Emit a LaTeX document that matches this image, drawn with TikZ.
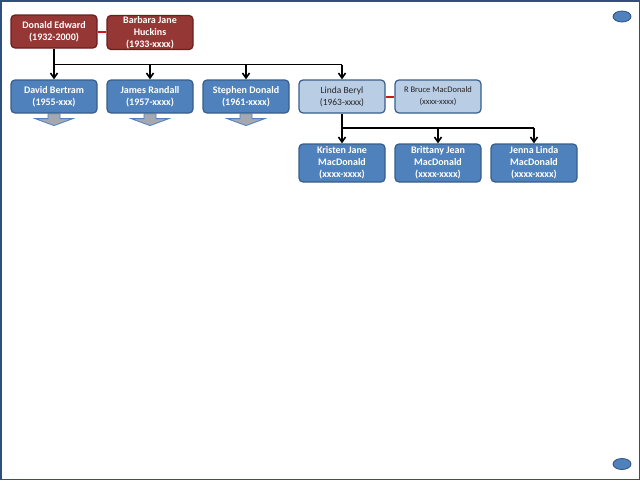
\documentclass[tikz,border=0pt]{standalone}
\usepackage{fontspec}
\setmainfont{Carlito}
\usetikzlibrary{arrows.meta,shapes.geometric}
\definecolor{redfill}{HTML}{953735}
\definecolor{redline}{HTML}{6B1E1E}
\definecolor{bluefill}{HTML}{4F81BD}
\definecolor{blueline}{HTML}{385D8A}
\definecolor{lightfill}{HTML}{B9CDE5}
\definecolor{spouse}{HTML}{D01818}
\definecolor{frame}{HTML}{2F4F7F}
\definecolor{grayarrow}{HTML}{A5A8AE}
\tikzset{
  person/.style={draw=#1, line width=1.2pt, rounded corners=4pt, minimum width=86pt, minimum height=33pt, inner sep=1pt, align=center, font=\fontsize{10}{11.8}\selectfont\bfseries, text=white},
  redbox/.style={person=redline, fill=redfill},
  bluebox/.style={person=blueline, fill=bluefill},
  lightbox/.style={person=blueline, fill=lightfill, text=black!85, font=\fontsize{9.5}{12}\selectfont},
  tallbox/.style={minimum height=38pt},
  marriage/.style={draw=spouse, line width=2pt},
  descent/.style={draw=black, line width=1.8pt, -{Straight Barb[length=5pt,width=7pt,line width=1.6pt]}},
  trunk/.style={draw=black, line width=1.8pt},
  dot/.style={ellipse, draw=frame, fill=bluefill, line width=0.8pt, minimum width=18pt, minimum height=11pt, inner sep=0pt},
  more/.style={fill=grayarrow, draw=bluefill, line width=0.8pt}
}
\begin{document}
\begin{tikzpicture}[x=1pt,y=-1pt]
\useasboundingbox (0,0) rectangle (640,480);
\draw[frame, line width=1.5pt] (0.75,0.75) rectangle (639.25,479.25);

\node[redbox] (don) at (54,31.5) {Donald Edward\\(1932-2000)};
\node[redbox] (bar) at (150,32.5) {Barbara Jane\\Huckins\\(1933-xxxx)};
\draw[marriage] (don.east) -- (don.east -| bar.west);

\node[bluebox] (dav) at (54,96.5) {David Bertram\\(1955-xxx)};
\node[bluebox] (jam) at (150,96.5) {James Randall\\(1957-xxxx)};
\node[bluebox] (ste) at (246,96.5) {Stephen Donald\\(1961-xxxx)};
\node[lightbox] (lin) at (342,96.5) {Linda Beryl\\(1963-xxxx)};
\node[lightbox, font=\fontsize{8.5}{12}\selectfont] (bru) at (438,96.5) {R Bruce MacDonald\\(xxxx-xxxx)};
\draw[marriage] (lin.east) -- (bru.west);

\coordinate (bar1) at (54,64.5);
\coordinate (bar1e) at (342,64.5);
\draw[trunk] (don.south) -- (bar1) -- (bar1e);
\foreach \c in {dav,jam,ste,lin}{
  \draw[descent] (bar1 -| \c.north) -- (\c.north);
}

\node[bluebox, tallbox] (kri) at (342,163) {Kristen Jane\\MacDonald\\(xxxx-xxxx)};
\node[bluebox, tallbox] (bri) at (438,163) {Brittany Jean\\MacDonald\\(xxxx-xxxx)};
\node[bluebox, tallbox] (jen) at (534,163) {Jenna Linda\\MacDonald\\(xxxx-xxxx)};

\coordinate (bar2) at (342,128);
\coordinate (bar2e) at (534,128);
\draw[trunk] (lin.south) -- (bar2) -- (bar2e);
\foreach \c in {kri,bri,jen}{
  \draw[descent] (bar2 -| \c.north) -- (\c.north);
}

\foreach \c in {dav,jam,ste}{
  \path[more] ([xshift=-6pt]\c.south) -- ++(0,5) -- ++(-13,0) -- ++(19,7) -- ++(19,-7) -- ++(-13,0) -- ++(0,-5) -- cycle;
}

\node[dot] (d1) at (622,16.5) {};
\node[dot] (d2) at (622,464) {};
\end{tikzpicture}
\end{document}
